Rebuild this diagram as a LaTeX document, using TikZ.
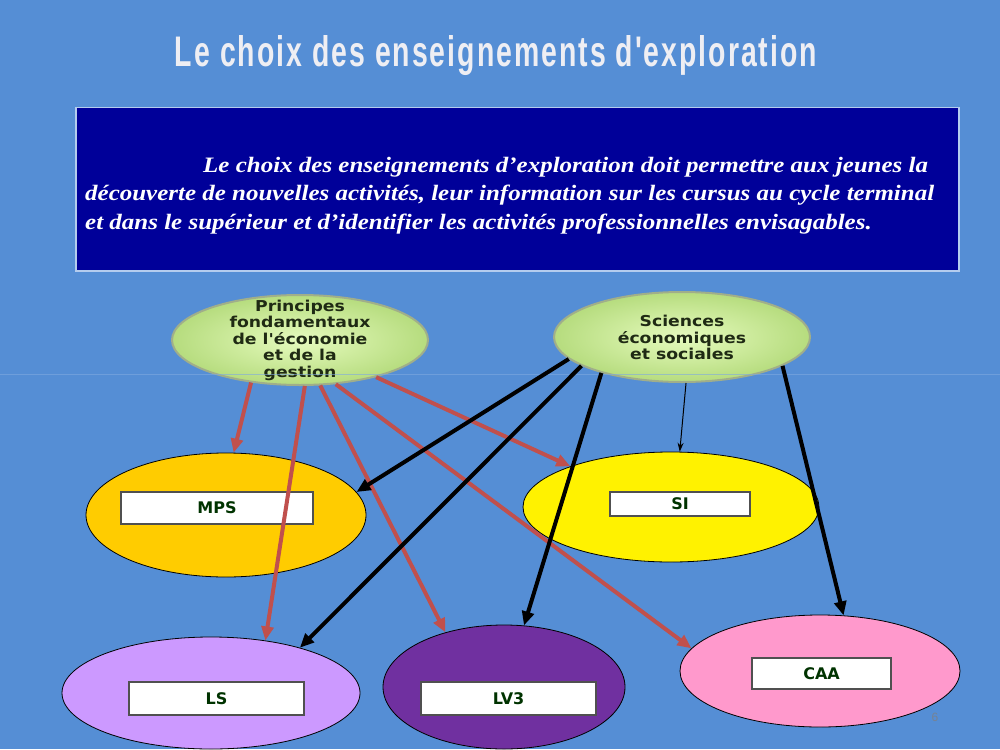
\documentclass[tikz,border=0pt]{standalone}
\usepackage{fontspec}
\usepackage{graphicx}
\setmainfont{Liberation Serif}
\newfontfamily\verdana{DejaVu Sans}
\newfontfamily\arialfont{Liberation Sans}
\usetikzlibrary{shapes.geometric,arrows.meta}
\definecolor{slide}{HTML}{558ED5}
\definecolor{boxblue}{HTML}{000099}
\definecolor{boxline}{HTML}{B4CCEE}
\definecolor{titleink}{HTML}{EEEEF3}
\definecolor{topicin}{HTML}{E6FBBE}
\definecolor{topicout}{HTML}{B6DC7E}
\definecolor{topicline}{HTML}{A0AE8A}
\definecolor{topicink}{HTML}{1F2A14}
\definecolor{tagline}{HTML}{505050}
\definecolor{tagink}{HTML}{003300}
\definecolor{redline}{HTML}{C0504D}
\begin{document}
\begin{tikzpicture}[x=1pt,y=-1pt,
        topic/.style={ellipse, draw=topicline, line width=2pt, inner color=topicin, outer color=topicout, minimum width=256pt, minimum height=90pt, inner sep=0pt},
        topictext/.style={font=\verdana\bfseries\fontsize{15}{16.2}\selectfont, text=topicink, inner sep=0pt},
        option/.style={ellipse, draw=black, line width=0.8pt, inner sep=0pt},
        tag/.style={draw=tagline, fill=white, line width=1.2pt, inner sep=0pt, font=\verdana\bfseries\fontsize{16}{16}\selectfont, text=tagink},
        pfeg arrow/.style={draw=redline, line width=4pt, -{Triangle[length=14pt,width=12pt]}},
        ses arrow/.style={draw=black, line width=4pt, -{Triangle[length=14pt,width=12pt]}},
        thin arrow/.style={draw=black, line width=1pt, -{Stealth[length=9pt,width=6pt]}}
    ]
    \useasboundingbox (0,0) rectangle (1000,749);
    \fill[slide] (0,0) rectangle (1000,749);
    % title and intro box
    \node[anchor=base, text=titleink, inner sep=0pt] (title) at (496,67) {\resizebox{642pt}{31pt}{\arialfont\bfseries\addfontfeature{LetterSpace=7}Le choix des enseignements d'exploration}};
    \node[draw=boxline, fill=boxblue, line width=1.5pt, minimum width=883pt, minimum height=163pt, anchor=north west, inner sep=0pt] (box) at (75,107) {};
    \node[anchor=north west, inner sep=0pt, text=white, font=\bfseries\itshape\fontsize{22}{28.5}\selectfont] (intro) at (85,152) {\scalebox{1.135}[1]{\begin{tabular}{@{}l@{}}\hspace*{104pt}Le choix des enseignements d’exploration doit permettre aux jeunes la\\découverte de nouvelles activités, leur information sur les cursus au cycle terminal\\et dans le supérieur et d’identifier les activités professionnelles envisagables.\end{tabular}}};
    % the two subjects
    \node[topic] (pfeg) at (300,340) {};
    \node[topictext] (pfegtext) at (300,341) {\scalebox{1.15}[1]{\begin{tabular}{@{}c@{}}Principes\\fondamentaux\\de l'économie\\et de la\\gestion\end{tabular}}};
    \node[topic] (ses) at (682,337) {};
    \node[topictext] (sestext) at (682,340) {\scalebox{1.15}[1]{\begin{tabular}{@{}c@{}}Sciences\\économiques\\et sociales\end{tabular}}};
    % the options
    \node[option, fill={rgb,255:red,255;green,204;blue,0}, minimum width=280pt, minimum height=124pt] (mps) at (226,515) {};
    \node[option, fill=yellow, minimum width=296pt, minimum height=110pt] (si) at (671,507) {};
    \node[option, fill={rgb,255:red,204;green,153;blue,255}, minimum width=298pt, minimum height=112pt] (ls) at (211,693) {};
    \node[option, fill={rgb,255:red,112;green,48;blue,160}, minimum width=242pt, minimum height=124pt] (lv3) at (504,687) {};
    \node[option, fill={rgb,255:red,255;green,153;blue,204}, minimum width=280pt, minimum height=112pt] (caa) at (820,671) {};
    \node[tag, minimum width=192pt, minimum height=32pt] (mpstag) at (217,508) {MPS};
    \node[tag, minimum width=140pt, minimum height=24pt] (sitag) at (680,504) {SI};
    \node[tag, minimum width=175pt, minimum height=33pt] (lstag) at (216.5,698.5) {LS};
    \node[tag, minimum width=175pt, minimum height=33pt] (lv3tag) at (508.5,698.5) {LV3};
    \node[tag, minimum width=139pt, minimum height=31pt] (caatag) at (821.5,673.5) {CAA};
    \draw[white!25!slide, line width=0.8pt, opacity=0.6] (0,374) -- (1000,374);
    % arrows
    \draw[pfeg arrow] (pfeg.221) -- (mps.83);
    \draw[pfeg arrow] (pfeg.276) -- (ls.44);
    \draw[pfeg arrow] (pfeg.294) -- (lv3.137);
    \draw[pfeg arrow] (pfeg.309) -- (caa.170);
    \draw[pfeg arrow] (pfeg.334) -- (si.158);
    \draw[ses arrow] (ses.191) -- (mps.10);
    \draw[ses arrow] (ses.196) -- (ls.27);
    \draw[ses arrow] (ses.204) -- (lv3.72);
    \draw[ses arrow] (ses.344) -- (caa.67);
    \draw[thin arrow] (ses.275) -- (si.81);
    \node[text=gray!80!slide, font=\arialfont\fontsize{12}{12}\selectfont] (pagenum) at (935,717) {6};
\end{tikzpicture}
\end{document}
